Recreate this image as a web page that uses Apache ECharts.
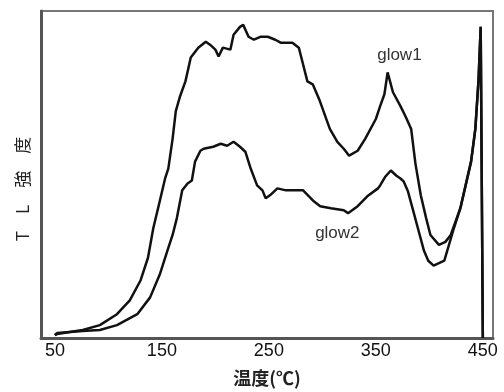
<!DOCTYPE html>
<html>
<head>
<meta charset="utf-8">
<script src="https://cdn.jsdelivr.net/npm/echarts@6/dist/echarts.min.js"></script>
<style>
  html, body { margin: 0; padding: 0; background: #fff; }
  #chart { width: 504px; height: 392px; }
</style>
</head>
<body>
<div id="chart"></div>
<script>
// glow curve data (temperature degC, TL intensity a.u.)
var glow1Temp = [50, 52, 76, 92, 108, 120, 130, 137, 142, 148, 153, 156, 160, 163, 167, 172, 177, 184, 191, 195,
    200, 203, 207, 214, 217, 223, 226, 231, 236, 242, 249, 256, 261, 272, 278, 282, 286, 291, 297, 307,
    314, 320, 325, 333, 340, 350, 354, 358, 361, 364, 366, 373, 378, 383, 387, 392, 397, 401, 409, 415,
    420, 429, 439, 443, 446, 448, 449, 450];
var glow1Vals = [3, 4, 8, 13, 24, 38, 58, 81, 111, 138, 161, 171, 201, 229, 244, 259, 283, 293, 299, 296,
    291, 284, 293, 291, 306, 314, 316, 304, 301, 304, 304, 301, 298, 298, 293, 276, 259, 256, 241, 211,
    198, 191, 184, 189, 201, 221, 234, 246, 268, 256, 248, 234, 223, 211, 176, 144, 121, 104, 94, 97,
    104, 131, 178, 211, 261, 314, 316, 0];

var glow2Temp = [50, 52, 76, 92, 108, 127, 139, 148, 156, 160, 164, 169, 174, 178, 181, 186, 189, 198, 205, 211,
    217, 223, 228, 233, 239, 244, 247, 251, 258, 266, 273, 282, 292, 298, 308, 320, 324, 333, 342, 352,
    354, 359, 364, 369, 373, 376, 380, 385, 390, 395, 399, 404, 414, 423, 429, 439, 443, 446, 448, 449, 450];
var glow2Vals = [3, 5, 7, 8, 13, 24, 41, 64, 91, 104, 121, 149, 156, 159, 178, 189, 191, 193, 196, 194,
    198, 193, 188, 171, 154, 149, 141, 144, 151, 149, 149, 149, 138, 133, 131, 129, 126, 133, 143, 151,
    154, 163, 169, 164, 161, 158, 148, 128, 108, 88, 78, 73, 78, 111, 131, 178, 211, 261, 314, 316, 0];

var xTicks = [50, 150, 250, 350, 450];
var labelGlow1 = [372, 285];
var labelGlow2 = [314, 106];

function pairs(xs, ys) {
    var out = [];
    for (var i = 0; i < xs.length; i++) out.push([xs[i], ys[i]]);
    return out;
}

var chart = echarts.init(document.getElementById('chart'));
var lineStyle = { color: '#111', width: 2.5 };
var labelText = { show: true, position: 'inside', color: '#333', fontSize: 17,
    fontFamily: 'Liberation Sans, Arial, sans-serif' };

chart.setOption({
    animation: false,
    backgroundColor: '#fff',
    grid: { left: 41, right: 11, top: 11, bottom: 51, show: true,
        borderColor: '#777', borderWidth: 2, backgroundColor: 'transparent' },
    xAxis: {
        type: 'value', min: 37, max: 459.5,
        name: '温度(℃)', nameLocation: 'middle', nameGap: 31,
        nameTextStyle: { fontSize: 18, color: '#222', fontWeight: 'bold', fontFamily: 'Noto Sans CJK JP' },
        axisLine: { show: true, lineStyle: { color: '#555', width: 3 } },
        axisTick: { show: false },
        splitLine: { show: false },
        axisLabel: { customValues: xTicks, fontSize: 18, color: '#111', margin: 4,
            fontFamily: 'Liberation Sans, Arial, sans-serif' }
    },
    yAxis: {
        type: 'value', min: 0, max: 330,
        axisLine: { show: true, lineStyle: { color: '#555', width: 3 } },
        axisTick: { show: false },
        axisLabel: { show: false },
        splitLine: { show: false }
    },
    graphic: [{
        type: 'text', x: 23, y: 189, rotation: Math.PI / 2,
        style: { text: 'T　L　強　度', fontSize: 17, fill: '#222',
            fontFamily: 'Noto Sans CJK JP', align: 'center', verticalAlign: 'middle' }
    }],
    series: [{
        name: 'glow1', type: 'line', showSymbol: false, smooth: false,
        data: pairs(glow1Temp, glow1Vals), lineStyle: lineStyle,
        markPoint: { symbolSize: 0, data: [{ coord: labelGlow1, name: 'glow1' }],
            label: Object.assign({ formatter: 'glow1' }, labelText) }
    }, {
        name: 'glow2', type: 'line', showSymbol: false, smooth: false,
        data: pairs(glow2Temp, glow2Vals), lineStyle: lineStyle,
        markPoint: { symbolSize: 0, data: [{ coord: labelGlow2, name: 'glow2' }],
            label: Object.assign({ formatter: 'glow2' }, labelText) }
    }]
});
</script>
</body>
</html>
